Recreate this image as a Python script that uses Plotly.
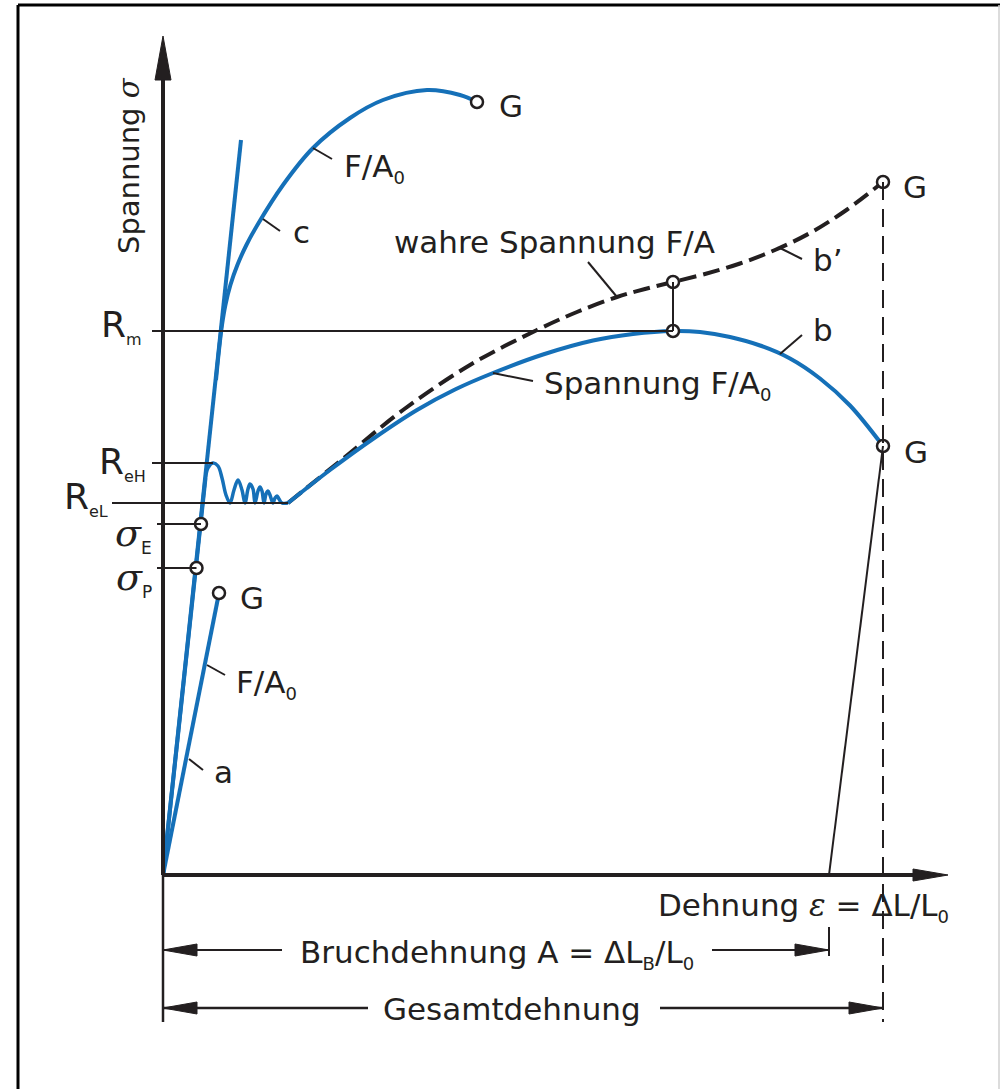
import plotly.graph_objects as go

# ---------------- data (schematic units: strain eps, stress sigma) ----------------
# curve a : brittle material, straight line up to fracture G
A_X = [0.0, 5.6]
A_Y = [0.0, 28.2]

# Hooke line (tangent) belonging to curve c
HOOKE_X = [0.0, 7.8]
HOOKE_Y = [0.0, 73.5]

# curve c : material without pronounced yield point
C_X = [5.3, 5.6, 5.9, 6.24, 6.74, 7.44, 8.34, 9.44, 12.0, 15.0, 18.7, 22.0, 26.4, 29.7, 31.4]
C_Y = [49.5, 52.5, 55.0, 57.0, 59.0, 61.0, 63.0, 65.0, 69.0, 72.7, 75.7, 77.5, 78.5, 78.0, 77.3]

# curve b : elastic part
B_EL_X = [0.0, 4.25]
B_EL_Y = [0.0, 39.7]

# curve b : upper / lower yield point (Lueders band)
B_YIELD_X = [4.25, 4.5, 5.0, 5.5, 5.9, 6.3, 6.7, 7.1, 7.5, 7.9, 8.2, 8.5, 8.7, 9.0, 9.2,
             9.5, 9.7, 9.9, 10.1, 10.3, 10.5, 10.7, 11.0, 11.2, 11.4, 11.6, 11.9, 12.5]
B_YIELD_Y = [39.7, 40.7, 41.2, 40.9, 39.7, 38.0, 37.2, 38.5, 39.5, 38.5, 37.2, 38.6, 39.1, 38.6, 37.2,
             38.4, 38.8, 38.4, 37.2, 38.1, 38.4, 38.0, 37.2, 37.7, 37.9, 37.6, 37.2, 37.2]

# curve b : engineering stress F/A0 (hardening, necking, fracture)
B_X = [12.5, 16.7, 21.2, 25.4, 29.2, 33.0, 38.0, 43.0, 47.0, 51.0, 53.7, 56.7, 59.7, 62.7, 65.7, 68.7, 72.0]
B_Y = [37.2, 40.5, 43.75, 46.5, 48.55, 50.2, 52.05, 53.45, 54.1, 54.4, 54.3, 53.8, 52.95, 51.65, 49.65, 46.95, 42.9]

# curve b' : true stress F/A
BT_X = [12.5, 18.2, 24.0, 30.7, 37.4, 41.4, 45.4, 48.2, 51.0, 54.2, 57.7, 61.2, 64.7, 68.2, 72.0]
BT_Y = [37.2, 41.8, 46.5, 51.0, 54.5, 56.3, 57.8, 58.6, 59.3, 60.1, 61.15, 62.5, 64.2, 66.4, 69.3]

# characteristic values
R_EH = 41.2
R_EL = 37.2
R_M = 54.4
SIGMA_E = 35.1
SIGMA_P = 30.7
EPS_RM = 51.0          # strain at Rm
BT_AT_RM = 59.3        # true stress at Rm strain
EPS_E = 3.8
EPS_P = 3.35
A_BRUCH = 66.6         # Bruchdehnung (plastic)
A_GESAMT = 72.0        # Gesamtdehnung

# ---------------- styling ----------------
BLUE = "#1570b8"
INK = "#231f20"
FONT = "DejaVu Sans"
FS = 31

# pixel helpers for placing decorations / labels (figure is 1000 x 1089, 10 px per unit)
OX, OY, S = 163, 875, 10.0
def px(x):
    return (x - OX) / S
def py(y):
    return (OY - y) / S

fig = go.Figure()

def curve(x, y, color=BLUE, width=4, dash="solid", shape="linear"):
    fig.add_trace(go.Scatter(x=x, y=y, mode="lines", hoverinfo="skip", showlegend=False,
                             line=dict(color=color, width=width, dash=dash, shape=shape,
                                       smoothing=1.0)))

shapes = []
def seg(x0, y0, x1, y1, width=2, color=INK, dash="solid"):
    shapes.append(dict(type="line", xref="x", yref="y", x0=x0, y0=y0, x1=x1, y1=y1,
                       line=dict(color=color, width=width, dash=dash)))

def tri(path):
    shapes.append(dict(type="path", xref="x", yref="y", path=path,
                       fillcolor=INK, line=dict(color=INK, width=1)))

# ---- reference lines (thin black) ----
seg(px(152), R_M, EPS_RM, R_M)                 # Rm
seg(px(152), R_EH, 5.0, R_EH)                  # ReH
seg(px(112), R_EL, B_YIELD_X[-1], R_EL)        # ReL
seg(px(157), SIGMA_E, EPS_E, SIGMA_E)          # sigma_E
seg(px(157), SIGMA_P, EPS_P, SIGMA_P)          # sigma_P
seg(EPS_RM, R_M, EPS_RM, BT_AT_RM)             # connector at Rm
seg(B_X[-1], B_Y[-1], A_BRUCH, 0)              # elastic unloading line
seg(A_GESAMT, BT_Y[-1], A_GESAMT, py(1022), width=2, dash="18px,9px")  # dashed vertical

# leaders
seg(10.0, 65.6, 11.7, 64.4)       # c
seg(15.0, 72.7, 16.9, 71.6)       # F/A0 (c)
seg(4.4, 21.0, 6.2, 20.0)         # F/A0 (a)
seg(2.6, 11.6, 4.0, 10.5)         # a
seg(42.5, 61.3, 45.4, 57.8)       # wahre Spannung
seg(61.7, 62.7, 63.9, 61.6)       # b'
seg(61.7, 52.1, 63.9, 54.0)       # b
seg(33.0, 50.2, 37.0, 49.4)       # Spannung F/A0

# ---- axes ----
seg(0, 0, 0, py(80), width=4)                  # y axis
tri(f"M {-0.8} {py(80)} L 0 {py(36)} L 0.8 {py(80)} Z")
seg(0, 0, 0, py(1022), width=2.5)              # y axis continuation below
seg(0, 0, px(913), 0, width=4)                 # x axis
tri(f"M {px(913)} 0.6 L {px(948)} 0 L {px(913)} -0.6 Z")

# ---- dimension lines ----
yB = py(950)
seg(0, yB, px(282), yB, width=2)
seg(px(712), yB, A_BRUCH, yB, width=2)
tri(f"M 3.4 {yB+0.6} L 0 {yB} L 3.4 {yB-0.6} Z")
tri(f"M {A_BRUCH-3.4} {yB+0.6} L {A_BRUCH} {yB} L {A_BRUCH-3.4} {yB-0.6} Z")
seg(A_BRUCH, py(927), A_BRUCH, py(956), width=2)

yG = py(1008)
seg(0, yG, px(368), yG, width=2.5)
seg(px(660), yG, A_GESAMT, yG, width=2.5)
tri(f"M 3.4 {yG+0.6} L 0 {yG} L 3.4 {yG-0.6} Z")
tri(f"M {A_GESAMT-3.4} {yG+0.6} L {A_GESAMT} {yG} L {A_GESAMT-3.4} {yG-0.6} Z")

# ---- frame ----
shapes.append(dict(type="line", xref="paper", yref="paper", x0=18/1000, x1=1, y0=1-5/1089, y1=1-5/1089,
                   line=dict(color="black", width=3)))
shapes.append(dict(type="line", xref="paper", yref="paper", x0=18/1000, x1=18/1000, y0=0, y1=1-5/1089,
                   line=dict(color="black", width=3)))
shapes.append(dict(type="line", xref="paper", yref="paper", x0=999/1000, x1=999/1000, y0=0, y1=1-5/1089,
                   line=dict(color="#d0d0d0", width=1.5)))

# ---- curves ----
curve(HOOKE_X, HOOKE_Y)
curve(A_X, A_Y)
curve(C_X, C_Y, shape="spline")
curve(B_EL_X, B_EL_Y)
curve(B_YIELD_X, B_YIELD_Y, width=3.5, shape="spline")
curve(BT_X, BT_Y, color=INK, width=4, dash="17px,7px", shape="spline")
curve(B_X, B_Y, shape="spline")

# ---- open circles ----
CIRC_X = [A_X[-1], C_X[-1], B_X[-1], BT_X[-1], EPS_RM, EPS_RM, EPS_E, EPS_P]
CIRC_Y = [A_Y[-1], C_Y[-1], B_Y[-1], BT_Y[-1], R_M, BT_AT_RM, SIGMA_E, SIGMA_P]
fig.add_trace(go.Scatter(x=CIRC_X, y=CIRC_Y, mode="markers", hoverinfo="skip", showlegend=False,
                         marker=dict(symbol="circle", size=12, color="white",
                                     line=dict(color=INK, width=2.5))))

# ---- labels ----
ann = []
def label(text, x, y, xa="left", ya="middle", size=FS, angle=0):
    ann.append(dict(text=text, x=px(x), y=py(y), xref="x", yref="y", showarrow=False,
                    xanchor=xa, yanchor=ya, textangle=angle,
                    font=dict(family=FONT, size=size, color=INK)))

SUB0 = "<sub><span style='font-size:18px'>0</span></sub>"
GREEK = "font-family:\"DejaVu Serif\";font-style:italic"
label(f"Spannung <span style='{GREEK}'>σ</span>", 129, 166, xa="center", angle=-90, size=29)
label("G", 497, 106)
label("G", 901, 187)
label("G", 902, 452)
label("G", 238, 598)
label("F/A" + SUB0, 342, 168)
label("c", 291, 232)
label("F/A" + SUB0, 234, 684)
label("a", 212, 772)
label("wahre Spannung F/A", 392, 242)
label("b’", 811, 260)
label("b", 811, 330)
label("Spannung F/A" + SUB0, 542, 385)
label(f"Dehnung <span style='{GREEK}'>ε</span> = ΔL/L" + SUB0, 951, 907, xa="right")
label("Bruchdehnung A = ΔL<sub><span style='font-size:18px'>B</span></sub>/L" + SUB0, 497, 954, xa="center")
label("Gesamtdehnung", 512, 1009, xa="center")

def rlabel(main, sub, x, y, size=36, subsize=16, greek=False):
    m = f"<span style='{GREEK}'>{main}</span>" if greek else main
    label(f"{m}<sub><span style='font-size:{subsize}px'>{sub}</span></sub>", x, y, xa="right", size=size)

rlabel("R", "m", 144, 326)
rlabel("R", "eH", 148, 463)
rlabel("R", "eL", 110, 498)
rlabel("σ", "E", 154, 534, size=38, subsize=17, greek=True)
rlabel("σ", "P", 154, 578, size=38, subsize=17, greek=True)

fig.update_layout(
    width=1000, height=1089,
    margin=dict(l=0, r=0, t=0, b=0),
    paper_bgcolor="white", plot_bgcolor="white",
    font=dict(family=FONT, size=FS, color=INK),
    xaxis=dict(range=[px(0), px(1000)], visible=False, fixedrange=True),
    yaxis=dict(range=[py(1089), py(0)], visible=False, fixedrange=True),
    shapes=shapes, annotations=ann, showlegend=False,
)

fig.write_html("out.html", config={"displayModeBar": False},
               post_script="document.body.style.margin='0px';")
